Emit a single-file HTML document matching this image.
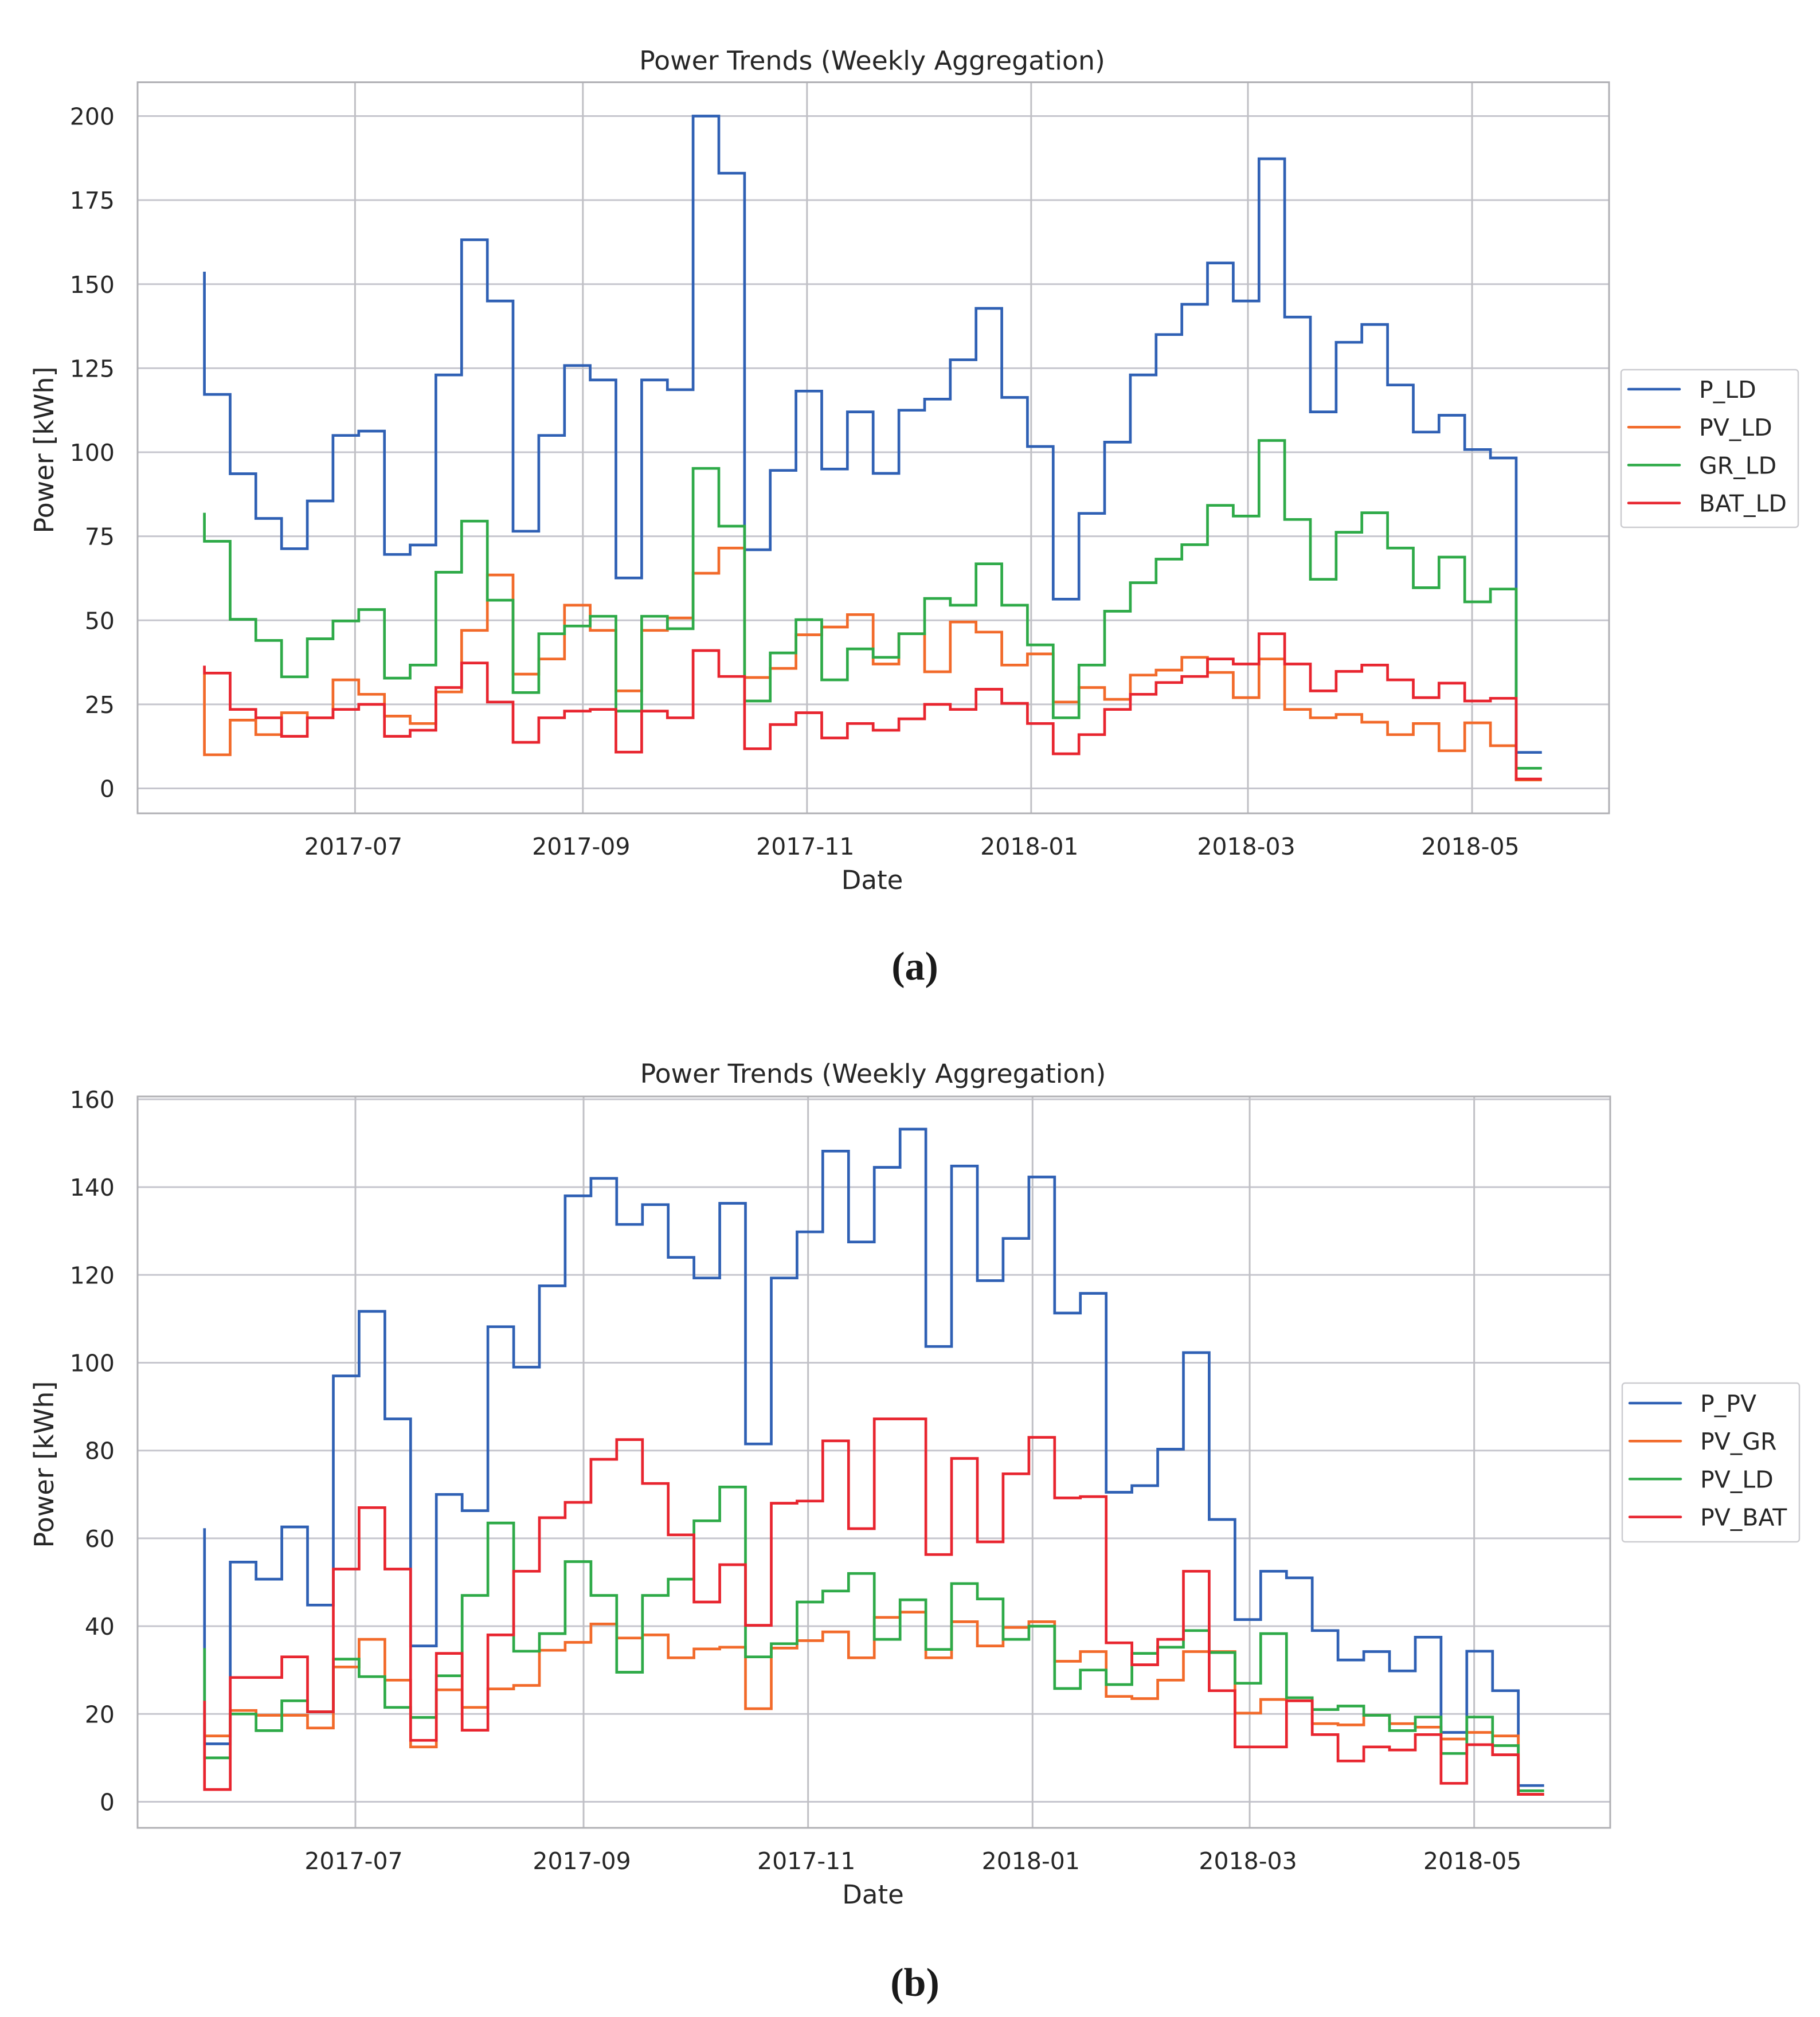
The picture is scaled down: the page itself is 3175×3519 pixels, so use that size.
<!DOCTYPE html>
<html lang="en">
<head>
<meta charset="utf-8">
<title>Power Trends (Weekly Aggregation)</title>
<style>
html,body{margin:0;padding:0;background:#fff;}
svg{display:block;}
text{font-family:"DejaVu Sans","Liberation Sans",sans-serif;fill:#262626;}
</style>
</head>
<body>
<svg id="figure" xmlns="http://www.w3.org/2000/svg" width="3175" height="3519" viewBox="0 0 3175 3519"></svg>
<script>
const weekDates = ['2017-05-21','2017-05-28','2017-06-04','2017-06-11','2017-06-18','2017-06-25','2017-07-02','2017-07-09','2017-07-16','2017-07-23','2017-07-30','2017-08-06','2017-08-13','2017-08-20','2017-08-27','2017-09-03','2017-09-10','2017-09-17','2017-09-24','2017-10-01','2017-10-08','2017-10-15','2017-10-22','2017-10-29','2017-11-05','2017-11-12','2017-11-19','2017-11-26','2017-12-03','2017-12-10','2017-12-17','2017-12-24','2017-12-31','2018-01-07','2018-01-14','2018-01-21','2018-01-28','2018-02-04','2018-02-11','2018-02-18','2018-02-25','2018-03-04','2018-03-11','2018-03-18','2018-03-25','2018-04-01','2018-04-08','2018-04-15','2018-04-22','2018-04-29','2018-05-06','2018-05-13','2018-05-20'];
const monthTicks = ['2017-07','2017-09','2017-11','2018-01','2018-03','2018-05'];
const yTicksA = [0,25,50,75,100,125,150,175,200];
const yTicksB = [0,20,40,60,80,100,120,140,160];

const P_LD = [153.7,117.2,93.6,80.3,71.3,85.5,105,106.3,69.6,72.4,123,163.2,145,76.5,105,125.8,121.5,62.6,121.5,118.6,200,183,71,94.6,118.2,95,112,93.7,112.5,115.8,127.5,142.8,116.3,101.7,56.3,81.8,103,123,135,144,156.3,145,187.3,140.2,112,132.7,138,120,106,111,100.8,98.3,10.7];
const PV_LD_A = [34,10,20.3,16,22.5,21,32.3,28,21.5,19.3,28.7,47,63.5,34,38.5,54.5,47,29,47,50.7,64,71.5,33,35.7,45.7,48,51.7,37,46,34.7,49.5,46.5,36.7,40,25.7,30,26.5,33.7,35.2,39,34.5,27,38.5,23.5,21,22,19.7,16,19.3,11.2,19.5,12.7,2.5];
const GR_LD = [82,73.5,50.3,44,33.2,44.5,49.8,53.2,32.8,36.7,64.3,79.5,56,28.5,46,48.3,51.2,23,51.2,47.5,95.2,78,26,40.3,50.2,32.3,41.5,39,46,56.5,54.5,66.8,54.5,42.7,21,36.7,52.7,61.2,68.2,72.5,84.2,81,103.5,80,62.2,76.2,82,71.5,59.7,68.8,55.5,59.3,6];
const BAT_LD = [36.5,34.3,23.5,21,15.5,21,23.5,25,15.5,17.3,30,37.3,25.7,13.7,21,23,23.5,10.8,23,21,41,33.3,11.8,19,22.5,15,19.3,17.3,20.7,25,23.5,29.5,25.3,19.3,10.3,16,23.5,28,31.5,33.3,38.5,37,46,37,29,34.8,36.7,32.3,27,31.3,26,26.8,2.8];

const P_PV = [62.3,13.2,54.6,50.7,62.6,44.8,97,111.7,87.2,35.5,70,66.3,108.2,99,117.5,138,142,131.5,136,124,119.3,136.3,81.5,119.3,129.8,148.2,127.5,144.5,153.2,103.7,144.8,118.7,128.3,142.3,111.3,115.8,70.5,72,80.3,102.3,64.3,41.5,52.5,51,39,32.3,34.2,29.8,37.5,15.8,34.3,25.3,3.7];
const PV_GR = [18,15,20.8,19.7,19.7,16.8,30.7,37,27.7,12.5,25.5,21.5,25.7,26.5,34.5,36.3,40.5,37.3,38,32.8,34.8,35.2,21.2,35,36.7,38.7,32.8,42,43.2,32.8,41,35.5,39.7,41,32,34.2,24,23.5,27.7,34.2,34.2,20.2,23.3,23,17.8,17.5,19.7,17.8,17,14.3,15.8,15,1.7];
const PV_LD_B = [35,10,20,16.2,23,20.5,32.5,28.5,21.5,19.2,28.7,47,63.5,34.3,38.3,54.7,47,29.5,47,50.7,64,71.7,33,36,45.5,48,52,37,46,34.7,49.7,46.2,37,40,25.8,30,26.7,33.8,35.2,39,34,27,38.3,23.7,21,21.8,19.7,16.2,19.3,11,19.3,12.8,2.5];
const PV_BAT = [23,2.8,28.3,28.3,33,20.5,53,67,53,14,33.8,16.3,38,52.5,64.7,68.2,78,82.5,72.5,60.8,45.5,54,40.2,68,68.5,82.2,62.2,87.2,87.2,56.3,78.2,59.2,74.7,83,69.2,69.5,36.2,31.2,37,52.5,25.3,12.5,12.5,23,15.3,9.3,12.5,11.8,15.3,4.2,13,10.7,1.7];

const seriesColors = ['#2f60b4','#f26a2a','#2eaa48','#e8252f'];
const seriesA = [['P_LD',P_LD],['PV_LD',PV_LD_A],['GR_LD',GR_LD],['BAT_LD',BAT_LD]];
const seriesB = [['P_PV',P_PV],['PV_GR',PV_GR],['PV_LD',PV_LD_B],['PV_BAT',PV_BAT]];

const svg = document.getElementById('figure');
const NS = 'http://www.w3.org/2000/svg';

function days(s){
  const p = s.split('-').map(Number);
  return Date.UTC(p[0], p[1]-1, p[2]||1) / 86400000;
}
function line(parent,x1,y1,x2,y2,color,w){
  const el = document.createElementNS(NS,'line');
  el.setAttribute('x1',x1);el.setAttribute('y1',y1);el.setAttribute('x2',x2);el.setAttribute('y2',y2);
  el.setAttribute('stroke',color);el.setAttribute('stroke-width',w);
  parent.appendChild(el);
  return el;
}
function label(parent,str,x,y,size,anchor,rot){
  const el = document.createElementNS(NS,'text');
  el.textContent = str;
  el.setAttribute('font-size',size);
  el.setAttribute('text-anchor',anchor);
  el.setAttribute('transform', rot
    ? 'translate('+x+','+y+') rotate(-90)'
    : 'translate('+x+','+y+')');
  parent.appendChild(el);
  return el;
}

function drawPanel(cfg){
  const g = document.createElementNS(NS,'g');
  
  
  svg.appendChild(g);

  const d0 = days('2017-07-01');
  const xScale = function(d){ return cfg.x0 + (days(d)-d0)*cfg.pxPerDay; };
  const yScale = function(v){ return cfg.yZero - v*cfg.pxPerUnit; };

  // grid
  cfg.yTicks.forEach(function(t){
    const gl = line(g,cfg.left,yScale(t),cfg.right,yScale(t),'#c6c6ce',3);
    
    
    const tl = label(g,String(t),200,yScale(t)+15,41,'end',false);
    
    
  });
  monthTicks.forEach(function(m){
    const gl = line(g,xScale(m),cfg.top,xScale(m),cfg.bottom,'#c0c0c5',3);
    
    
    const tl = label(g,m,xScale(m)-3,cfg.bottom+72,41,'middle',false);
    
    
  });

  // series (steps-pre: each value covers the week ending at its date)
  cfg.series.forEach(function(s,i){
    const vals = s[1];
    let d = 'M'+xScale(weekDates[0]).toFixed(1)+' '+yScale(vals[0]).toFixed(1);
    for(let k=1;k<vals.length;k++){
      d += 'L'+xScale(weekDates[k-1]).toFixed(1)+' '+yScale(vals[k]).toFixed(1);
      d += 'L'+xScale(weekDates[k]).toFixed(1)+' '+yScale(vals[k]).toFixed(1);
    }
    const p = document.createElementNS(NS,'path');
    p.setAttribute('d',d);
    p.setAttribute('fill','none');
    p.setAttribute('stroke',seriesColors[i]);
    p.setAttribute('stroke-width','4.7');
    p.setAttribute('stroke-linejoin','miter');
    
    
    g.appendChild(p);
  });

  // spines
  const frame = document.createElementNS(NS,'rect');
  frame.setAttribute('x',cfg.left);frame.setAttribute('y',cfg.top);
  frame.setAttribute('width',cfg.right-cfg.left);frame.setAttribute('height',cfg.bottom-cfg.top);
  frame.setAttribute('fill','none');frame.setAttribute('stroke','#b0b0b4');frame.setAttribute('stroke-width','3');
  
  
  g.appendChild(frame);

  // titles
  const title = label(g,'Power Trends (Weekly Aggregation)',cfg.titleX,cfg.titleY,45.8,'middle',false);
  
  
  const xl = label(g,'Date',cfg.titleX,cfg.bottom+132,45,'middle',false);
  
  
  const yl = label(g,'Power [kWh]',93,cfg.yLabelY,46,'middle',true);
  
  

  // legend
  const box = document.createElementNS(NS,'rect');
  box.setAttribute('x',cfg.legX);box.setAttribute('y',cfg.legY);
  box.setAttribute('width',cfg.legW);box.setAttribute('height',cfg.legH);
  box.setAttribute('rx','5');
  box.setAttribute('fill','#fff');box.setAttribute('stroke','#ccccd0');box.setAttribute('stroke-width','2.5');
  
  
  g.appendChild(box);
  cfg.series.forEach(function(s,i){
    const ry = cfg.legRow0 + i*cfg.legStep;
    const ln = line(g,cfg.legX+13,ry,cfg.legX+102,ry,seriesColors[i],4.5);
    ln.setAttribute('stroke-linecap','round');
    
    
    const tx = label(g,s[0],cfg.legX+136,ry+15,41,'start',false);
    
    
  });

  // caption
  const cap = document.createElementNS(NS,'text');
  cap.textContent = cfg.caption;
  cap.setAttribute('x','1596');
  cap.setAttribute('y',cfg.captionY);
  cap.setAttribute('text-anchor','middle');
  cap.setAttribute('font-size','70');
  cap.setAttribute('font-weight','bold');
  cap.setAttribute('style','font-family:"Liberation Serif",serif;fill:#1a1a1a');
  
  
  g.appendChild(cap);
}

drawPanel({name:'panel-a',series:seriesA,yTicks:yTicksA,caption:'(a)',
  left:240,right:2807,top:143.5,bottom:1419,
  x0:619.4,pxPerDay:6.41,yZero:1375.5,pxPerUnit:5.865,
  titleX:1521.5,titleY:121.5,yLabelY:785,
  legX:2828,legY:645,legW:309,legH:275,legRow0:679,legStep:66.2,captionY:1709});
drawPanel({name:'panel-b',series:seriesB,yTicks:yTicksB,caption:'(b)',
  left:240,right:2809,top:1913,bottom:3189,
  x0:620,pxPerDay:6.42,yZero:3143.5,pxPerUnit:7.66,
  titleX:1523,titleY:1889,yLabelY:2555,
  legX:2830,legY:2413,legW:309,legH:277,legRow0:2448,legStep:66.2,captionY:3482});
</script>
</body>
</html>
